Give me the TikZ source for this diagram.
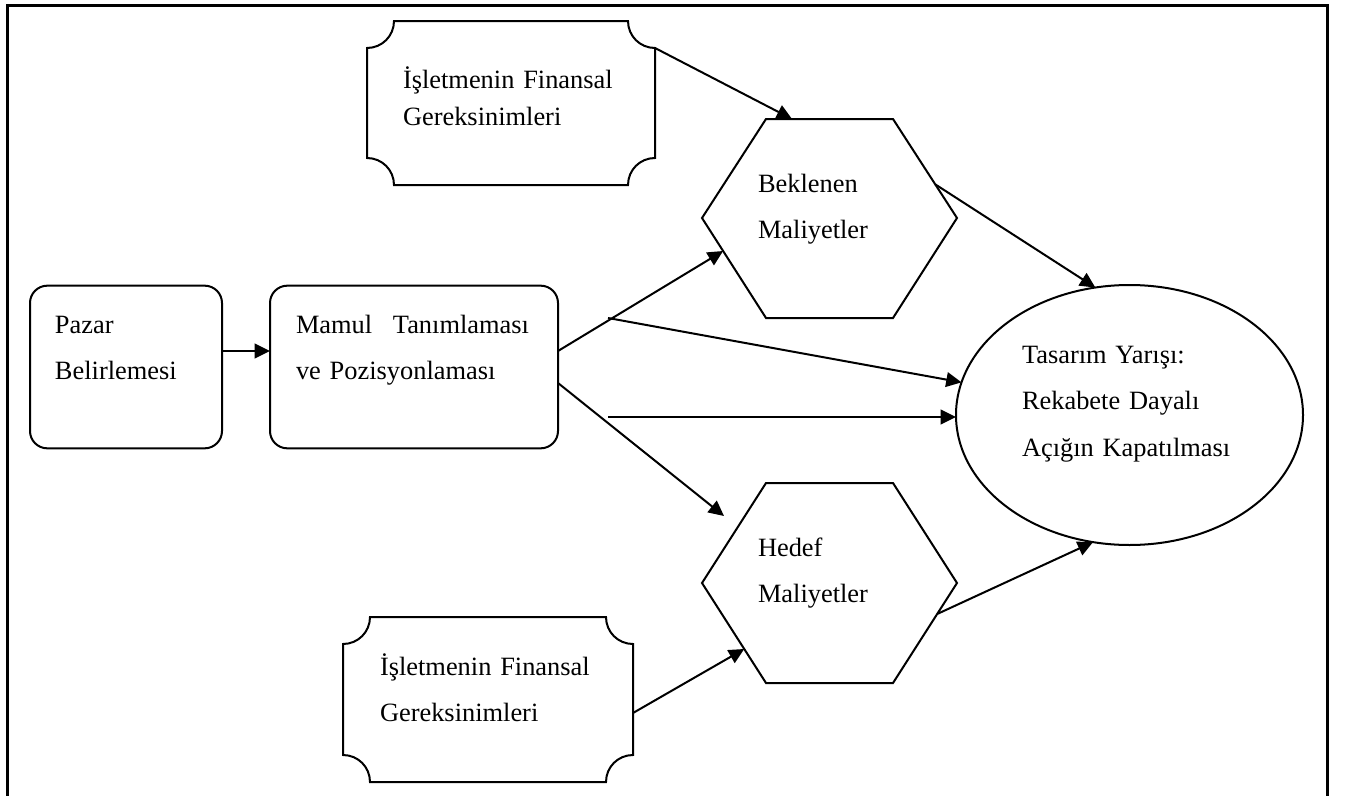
\documentclass[tikz,border=0pt]{standalone}
\usepackage{fontspec}
\setmainfont{Liberation Serif}
\usetikzlibrary{arrows.meta,shapes.geometric,calc}

% plaque-shaped box with concave corners: x1, y1, x2, y2
\newcommand{\plaquebox}[4]{%
  \draw ({#1+27},#2) -- ({#3-27},#2)
    .. controls ({#3-27},{#2+15}) and ({#3-15},{#2+27}) .. ({#3},{#2+27})
    -- ({#3},{#4-27})
    .. controls ({#3-15},{#4-27}) and ({#3-27},{#4-15}) .. ({#3-27},#4)
    -- ({#1+27},#4)
    .. controls ({#1+27},{#4-15}) and ({#1+15},{#4-27}) .. (#1,{#4-27})
    -- (#1,{#2+27})
    .. controls ({#1+15},{#2+27}) and ({#1+27},{#2+15}) .. cycle;}

\begin{document}
\begin{tikzpicture}[x=0.75pt,y=-0.75pt,line width=1.5pt,
  conn/.style={-{Triangle[length=11.5pt,width=11pt]}},
  txt/.style={anchor=base west,inner sep=0pt,outer sep=0pt,text width=230pt,
    align=left,font=\fontsize{19.8pt}{35pt}\selectfont},
  rbox/.style={draw,rounded corners=13pt,inner sep=0pt,outer sep=0pt},
  outerframe/.style={line width=2.25pt}]

\useasboundingbox (0,0) rectangle (1350,796);

% open frame
\draw[outerframe] (7,796) -- (7,5) -- (1327,5) -- (1327,796);

% rounded boxes
\node[rbox,minimum width=144pt,minimum height=122pt] (paz) at (126,367) {};
\node[rbox,minimum width=216pt,minimum height=122pt] (mam) at (414,367) {};

% plaques
\plaquebox{367}{21}{655}{185}
\plaquebox{343}{617}{633}{782}
\coordinate (fin1-out) at (655,48);
\coordinate (fin2-out) at (633,713);

% hexagons
\draw (766,119) coordinate (b1) -- (893,119) coordinate (b2) -- (957,218) coordinate (b3)
  -- (893,318) coordinate (b4) -- (766,318) coordinate (b5) -- (702,218) coordinate (b6) -- cycle;
\draw (766,483) coordinate (h1) -- (893,483) coordinate (h2) -- (957,583) coordinate (h3)
  -- (893,683) coordinate (h4) -- (766,683) coordinate (h5) -- (702,583) coordinate (h6) -- cycle;

% ellipse
\node[ellipse,draw,minimum width=260.25pt,minimum height=195pt,inner sep=0pt,outer sep=0pt]
  (ell) at (1129.5,415) {};

% texts
\node[txt,font=\fontsize{19.8pt}{27.75pt}\selectfont] (fin1-t) at (403,88) {İşletmenin Finansal\\Gereksinimleri};
\node[txt] (fin2-t) at (380,675) {İşletmenin Finansal\\Gereksinimleri};
\node[txt] (paz-t) at (55,333) {Pazar\\Belirlemesi};
\node[txt] (mam-t) at (296,333) {Mamul\hspace{15.5pt}Tanımlaması\\ve Pozisyonlaması};
\node[txt] (bek-t) at (758,192) {Beklenen\\Maliyetler};
\node[txt] (hed-t) at (758,556) {Hedef\\Maliyetler};
\node[txt] (ell-t) at (1022,363) {Tasarım Yarışı:\\Rekabete Dayalı\\Açığın Kapatılması};

% free connector ends
\coordinate (h-in) at (724,516);
\coordinate (m-a) at (608,318);
\coordinate (m-b) at (608,417);

% connectors
\draw[conn] (fin1-out) -- ($(b1)!0.205!(b2)$);
\draw[conn] ([yshift=12pt]paz.east) -- ([yshift=12pt]mam.west);
\draw[conn] ([yshift=12pt]mam.east) -- ($(b6)!0.33!(b5)$);
\draw[conn] ([yshift=-12pt]mam.east) -- (h-in);
\draw[conn] (m-a) -- (ell.169);
\draw[conn] (m-b) -- (m-b -| ell.west);
\draw[conn] ($(b2)!0.66!(b3)$) -- (ell.105);
\draw[conn] (fin2-out) -- ($(h6)!0.66!(h5)$);
\draw[conn] ($(h3)!0.31!(h4)$) -- (ell.254);

\end{tikzpicture}
\end{document}
